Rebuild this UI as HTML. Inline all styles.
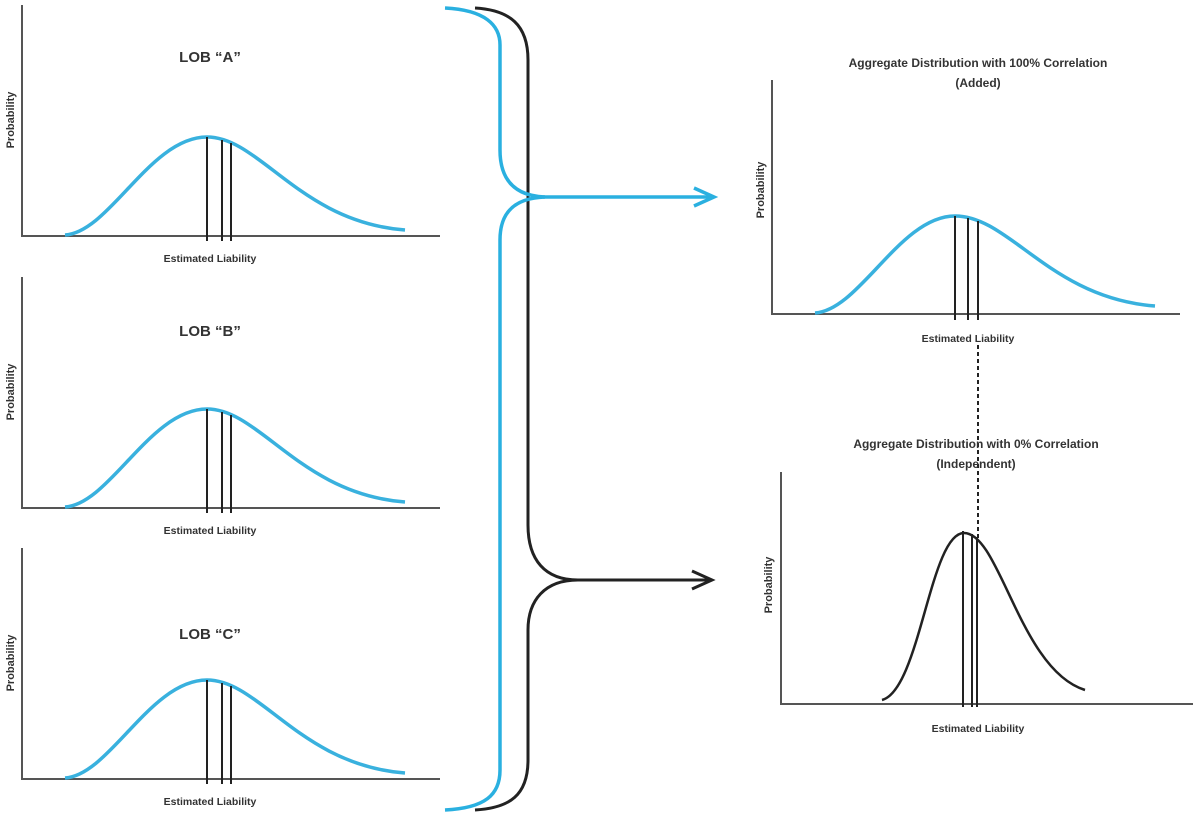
<!DOCTYPE html>
<html><head><style>
html,body{margin:0;padding:0;background:#fff;}
svg{display:block;}
text{font-family:"Liberation Sans",Arial,sans-serif;font-weight:bold;fill:#333;}
</style></head><body>
<svg width="1201" height="815" viewBox="0 0 1201 815" xmlns="http://www.w3.org/2000/svg">
<defs>
<g id="lob">
  <line x1="22" y1="5" x2="22" y2="236" stroke="#555" stroke-width="2"/>
  <line x1="21" y1="236" x2="440" y2="236" stroke="#555" stroke-width="2"/>
  <path d="M65,235 C110,232 150,137 207,137 C260,137 300,222 405,230" fill="none" stroke="#39b1de" stroke-width="3.5"/>
  <line x1="207" y1="137" x2="207" y2="241" stroke="#222" stroke-width="2"/>
  <line x1="222" y1="140" x2="222" y2="241" stroke="#222" stroke-width="2"/>
  <line x1="231" y1="143" x2="231" y2="241" stroke="#222" stroke-width="2"/>
  <text x="210" y="262" font-size="10.5" text-anchor="middle">Estimated Liability</text>
  <text transform="translate(14,120) rotate(-90)" font-size="11" text-anchor="middle">Probability</text>
</g>
</defs>

<use href="#lob"/>
<text x="210" y="62" font-size="15" text-anchor="middle">LOB “A”</text>
<use href="#lob" transform="translate(0,272)"/>
<text x="210" y="336" font-size="15" text-anchor="middle">LOB “B”</text>
<use href="#lob" transform="translate(0,543)"/>
<text x="210" y="639" font-size="15" text-anchor="middle">LOB “C”</text>

<!-- black brace -->
<path d="M475,8 C510,10 528,25 528,60 L528,525 C528,560 545,580 578,580 C545,580 528,600 528,630 L528,760 C528,795 510,808 475,810" fill="none" stroke="#222" stroke-width="3"/>
<line x1="576" y1="580" x2="710" y2="580" stroke="#222" stroke-width="3"/>
<path d="M692,571 L712,580 L692,589" fill="none" stroke="#222" stroke-width="3"/>

<!-- blue brace -->
<path d="M445,8 C485,10 500,25 500,45 L500,150 C500,180 515,196 545,197 C515,198 500,212 500,240 L500,770 C500,795 485,808 445,810" fill="none" stroke="#2ab0e0" stroke-width="3.5"/>
<line x1="543" y1="197" x2="712" y2="197" stroke="#2ab0e0" stroke-width="3.5"/>
<path d="M694,188 L714,197 L694,206" fill="none" stroke="#2ab0e0" stroke-width="3.5"/>

<!-- right top chart -->
<text x="978" y="67" font-size="12" text-anchor="middle">Aggregate Distribution with 100% Correlation</text>
<text x="978" y="87" font-size="12" text-anchor="middle">(Added)</text>
<line x1="772" y1="80" x2="772" y2="314" stroke="#555" stroke-width="2"/>
<line x1="771" y1="314" x2="1180" y2="314" stroke="#555" stroke-width="2"/>
<path d="M815,313 C860,310 900,216 955,216 C1010,216 1050,298 1155,306" fill="none" stroke="#39b1de" stroke-width="3.5"/>
<line x1="955" y1="216" x2="955" y2="320" stroke="#222" stroke-width="2"/>
<line x1="968" y1="218" x2="968" y2="320" stroke="#222" stroke-width="2"/>
<line x1="978" y1="221" x2="978" y2="320" stroke="#222" stroke-width="2"/>
<text x="968" y="342" font-size="10.5" text-anchor="middle">Estimated Liability</text>
<text transform="translate(764,190) rotate(-90)" font-size="11" text-anchor="middle">Probability</text>
<line x1="978" y1="345" x2="978" y2="538" stroke="#222" stroke-width="2" stroke-dasharray="4,3"/>

<!-- right bottom chart -->
<text x="976" y="448" font-size="12" text-anchor="middle">Aggregate Distribution with 0% Correlation</text>
<text x="976" y="468" font-size="12" text-anchor="middle">(Independent)</text>
<line x1="781" y1="472" x2="781" y2="704" stroke="#555" stroke-width="2"/>
<line x1="780" y1="704" x2="1193" y2="704" stroke="#555" stroke-width="2"/>
<path d="M882,700 C920,690 930,533 964,533 C1000,533 1020,670 1085,690" fill="none" stroke="#222" stroke-width="2.5"/>
<line x1="963" y1="531" x2="963" y2="707" stroke="#222" stroke-width="2"/>
<line x1="972" y1="534" x2="972" y2="707" stroke="#222" stroke-width="2"/>
<line x1="977" y1="537" x2="977" y2="707" stroke="#222" stroke-width="2"/>
<text x="978" y="732" font-size="10.5" text-anchor="middle">Estimated Liability</text>
<text transform="translate(772,585) rotate(-90)" font-size="11" text-anchor="middle">Probability</text>
</svg>
</body></html>
